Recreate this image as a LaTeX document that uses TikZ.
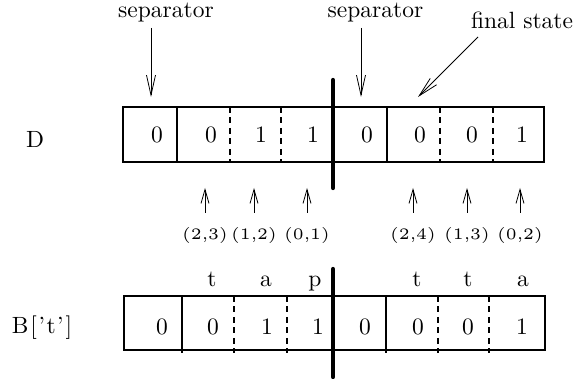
\documentclass[tikz,border=0pt]{standalone}
\usetikzlibrary{arrows.meta}
\begin{document}
\begin{tikzpicture}[x=1pt,y=-1pt,
  boxline/.style={line width=1.8pt},
  dashline/.style={line width=1.8pt, dash pattern=on 6pt off 4.5pt},
  thickbar/.style={line width=4.3pt, line cap=round},
  txt/.style={inner sep=0pt, anchor=base, scale=2.35, transform shape},
  lbl/.style={inner sep=0pt, anchor=base, scale=3.2, transform shape, font=\tiny},
  arr/.style={line width=0.8pt, -{Straight Barb[length=20pt,width=9pt]}},
  uparr/.style={line width=0.8pt, -{Straight Barb[length=14pt,width=8pt]}}]
\path[use as bounding box] (0,0) rectangle (574,379);

% ---- row D ----
\node[txt] (labD) at (35,148) {D};
\draw[boxline] (123,107) rectangle (544,162);
\draw[boxline] (177,107) -- (177,162);
\draw[boxline] (387,107) -- (387,162);
\foreach \x in {230,281,440,493} \draw[dashline] (\x,107) -- (\x,162);
\draw[thickbar] (333,80) -- (333,188);
\node[txt] (d1) at (157,142.5) {0};
\node[txt] (d2) at (211,142.5) {0};
\node[txt] (d3) at (261,142.5) {1};
\node[txt] (d4) at (313,142.5) {1};
\node[txt] (d5) at (367,142.5) {0};
\node[txt] (d6) at (420,142.5) {0};
\node[txt] (d7) at (472,142.5) {0};
\node[txt] (d8) at (522,142.5) {1};

% ---- top labels ----
\node[txt] (sepA) at (166,18) {separator};
\node[txt] (sepB) at (375.5,18) {separator};
\node[txt] (fin) at (522,28.5) {final state};
\coordinate (sAt) at (151,28); \coordinate (sAh) at (151,97);
\coordinate (sBt) at (361,28); \coordinate (sBh) at (361,97);
\coordinate (fT) at (478,37);  \coordinate (fH) at (418,97);
\draw[arr] (sAt) -- (sAh);
\draw[arr] (sBt) -- (sBh);
\draw[arr] (fT) -- (fH);

% ---- pointers ----
\foreach \x/\t [count=\i] in {205/{(2,3)},254/{(1,2)},307/{(0,1)},413/{(2,4)},467/{(1,3)},520/{(0,2)}}{
  \node[lbl] (p\i) at (\x,240) {\t};
  \coordinate (pt\i) at (\x,213);
  \coordinate (ph\i) at (\x,188);
  \draw[uparr] (pt\i) -- (ph\i);
}

% ---- row B ----
\node[txt] (labB) at (42,334) {B\kern0.8pt[\kern0.8pt'\kern0.6pt t\kern0.6pt'\kern0.8pt]};
\foreach \x/\t [count=\i] in {212/t,266/a,315/p,417/t,468/t,523/a}
  \node[txt] (c\i) at (\x,287) {\t};
\draw[boxline] (124,296) rectangle (545,350);
\draw[boxline] (182,296) -- (182,353);
\draw[boxline] (386,296) -- (386,353);
\foreach \x in {234,287,438,489} \draw[dashline] (\x,296) -- (\x,353);
\draw[thickbar] (333,269) -- (333,377);
\node[txt] (b1) at (162,335) {0};
\node[txt] (b2) at (213,335) {0};
\node[txt] (b3) at (267,335) {1};
\node[txt] (b4) at (318,335) {1};
\node[txt] (b5) at (365,335) {0};
\node[txt] (b6) at (418,335) {0};
\node[txt] (b7) at (468,335) {0};
\node[txt] (b8) at (522,335) {1};
\end{tikzpicture}
\end{document}
